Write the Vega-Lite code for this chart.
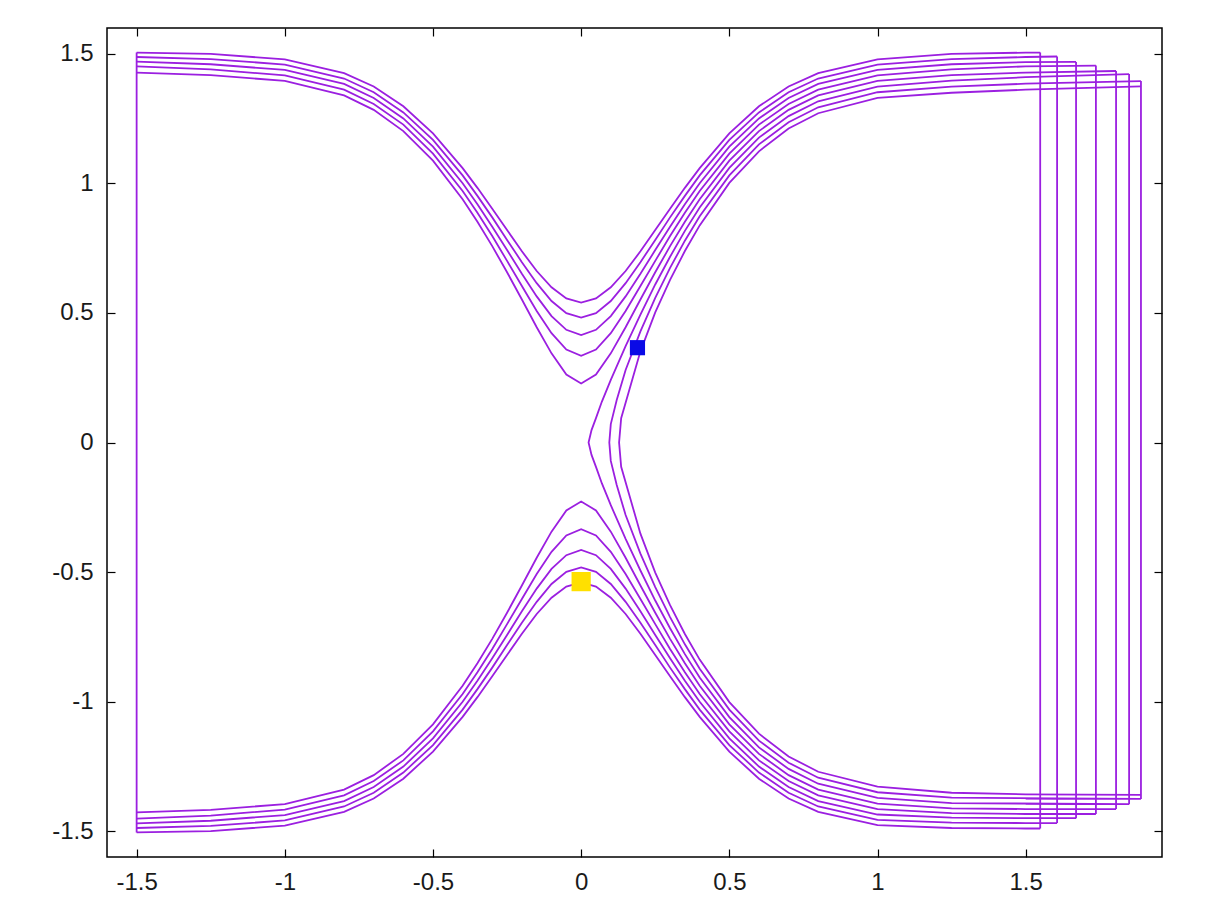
{
  "$schema": "https://vega.github.io/schema/vega-lite/v6.json",
  "width": 1055,
  "height": 829,
  "autosize": "none",
  "padding": {"left": 107, "top": 28, "right": 55, "bottom": 58},
  "background": "white",
  "config": {
    "view": {"stroke": "#000", "strokeWidth": 1.5},
    "axis": {"labelFont": "Liberation Sans", "labelFontSize": 24, "labelColor": "#1a1a1a", "tickColor": "#000", "tickSize": -8, "tickWidth": 1.2, "domain": false, "grid": false, "title": null}
  },
  "datasets": {
    "over": [
      {"k":"a1","x":-1.5,"y":1.505},{"k":"a1","x":-1.25,"y":1.5},{"k":"a1","x":-1,"y":1.479},{"k":"a1","x":-0.8,"y":1.426},{"k":"a1","x":-0.7,"y":1.374},{"k":"a1","x":-0.6,"y":1.298},{"k":"a1","x":-0.5,"y":1.193},{"k":"a1","x":-0.4,"y":1.059},{"k":"a1","x":-0.35,"y":0.983},{"k":"a1","x":-0.3,"y":0.902},{"k":"a1","x":-0.25,"y":0.82},{"k":"a1","x":-0.2,"y":0.738},{"k":"a1","x":-0.15,"y":0.662},{"k":"a1","x":-0.1,"y":0.599},{"k":"a1","x":-0.05,"y":0.556},{"k":"a1","x":0,"y":0.54},{"k":"a1","x":0.05,"y":0.556},{"k":"a1","x":0.1,"y":0.599},{"k":"a1","x":0.15,"y":0.662},{"k":"a1","x":0.2,"y":0.738},{"k":"a1","x":0.25,"y":0.82},{"k":"a1","x":0.3,"y":0.902},{"k":"a1","x":0.35,"y":0.983},{"k":"a1","x":0.4,"y":1.059},{"k":"a1","x":0.5,"y":1.193},{"k":"a1","x":0.6,"y":1.298},{"k":"a1","x":0.7,"y":1.374},{"k":"a1","x":0.8,"y":1.426},{"k":"a1","x":1,"y":1.479},{"k":"a1","x":1.25,"y":1.5},{"k":"a1","x":1.5,"y":1.505},{"k":"a1","x":1.549,"y":1.505},
      {"k":"b1","x":-1.5,"y":-1.505},{"k":"b1","x":-1.25,"y":-1.5},{"k":"b1","x":-1,"y":-1.479},{"k":"b1","x":-0.8,"y":-1.426},{"k":"b1","x":-0.7,"y":-1.374},{"k":"b1","x":-0.6,"y":-1.298},{"k":"b1","x":-0.5,"y":-1.193},{"k":"b1","x":-0.4,"y":-1.059},{"k":"b1","x":-0.35,"y":-0.983},{"k":"b1","x":-0.3,"y":-0.902},{"k":"b1","x":-0.25,"y":-0.82},{"k":"b1","x":-0.2,"y":-0.738},{"k":"b1","x":-0.15,"y":-0.662},{"k":"b1","x":-0.1,"y":-0.599},{"k":"b1","x":-0.05,"y":-0.556},{"k":"b1","x":0,"y":-0.54},{"k":"b1","x":0.05,"y":-0.556},{"k":"b1","x":0.1,"y":-0.599},{"k":"b1","x":0.15,"y":-0.662},{"k":"b1","x":0.2,"y":-0.738},{"k":"b1","x":0.25,"y":-0.82},{"k":"b1","x":0.3,"y":-0.902},{"k":"b1","x":0.35,"y":-0.983},{"k":"b1","x":0.4,"y":-1.059},{"k":"b1","x":0.5,"y":-1.193},{"k":"b1","x":0.6,"y":-1.298},{"k":"b1","x":0.7,"y":-1.374},{"k":"b1","x":0.8,"y":-1.426},{"k":"b1","x":1,"y":-1.477},{"k":"b1","x":1.25,"y":-1.488},{"k":"b1","x":1.5,"y":-1.49},{"k":"b1","x":1.549,"y":-1.49},
      {"k":"a2","x":-1.5,"y":1.488},{"k":"a2","x":-1.25,"y":1.48},{"k":"a2","x":-1,"y":1.459},{"k":"a2","x":-0.8,"y":1.405},{"k":"a2","x":-0.7,"y":1.352},{"k":"a2","x":-0.6,"y":1.274},{"k":"a2","x":-0.5,"y":1.168},{"k":"a2","x":-0.4,"y":1.031},{"k":"a2","x":-0.35,"y":0.952},{"k":"a2","x":-0.3,"y":0.869},{"k":"a2","x":-0.25,"y":0.782},{"k":"a2","x":-0.2,"y":0.696},{"k":"a2","x":-0.15,"y":0.615},{"k":"a2","x":-0.1,"y":0.546},{"k":"a2","x":-0.05,"y":0.499},{"k":"a2","x":0,"y":0.482},{"k":"a2","x":0.05,"y":0.499},{"k":"a2","x":0.1,"y":0.546},{"k":"a2","x":0.15,"y":0.615},{"k":"a2","x":0.2,"y":0.696},{"k":"a2","x":0.25,"y":0.782},{"k":"a2","x":0.3,"y":0.869},{"k":"a2","x":0.35,"y":0.952},{"k":"a2","x":0.4,"y":1.031},{"k":"a2","x":0.5,"y":1.168},{"k":"a2","x":0.6,"y":1.274},{"k":"a2","x":0.7,"y":1.352},{"k":"a2","x":0.8,"y":1.405},{"k":"a2","x":1,"y":1.459},{"k":"a2","x":1.25,"y":1.48},{"k":"a2","x":1.5,"y":1.488},{"k":"a2","x":1.606,"y":1.49},
      {"k":"b2","x":-1.5,"y":-1.488},{"k":"b2","x":-1.25,"y":-1.48},{"k":"b2","x":-1,"y":-1.459},{"k":"b2","x":-0.8,"y":-1.405},{"k":"b2","x":-0.7,"y":-1.352},{"k":"b2","x":-0.6,"y":-1.274},{"k":"b2","x":-0.5,"y":-1.168},{"k":"b2","x":-0.4,"y":-1.031},{"k":"b2","x":-0.35,"y":-0.952},{"k":"b2","x":-0.3,"y":-0.869},{"k":"b2","x":-0.25,"y":-0.782},{"k":"b2","x":-0.2,"y":-0.696},{"k":"b2","x":-0.15,"y":-0.615},{"k":"b2","x":-0.1,"y":-0.546},{"k":"b2","x":-0.05,"y":-0.499},{"k":"b2","x":0,"y":-0.482},{"k":"b2","x":0.05,"y":-0.499},{"k":"b2","x":0.1,"y":-0.546},{"k":"b2","x":0.15,"y":-0.615},{"k":"b2","x":0.2,"y":-0.696},{"k":"b2","x":0.25,"y":-0.782},{"k":"b2","x":0.3,"y":-0.869},{"k":"b2","x":0.35,"y":-0.952},{"k":"b2","x":0.4,"y":-1.031},{"k":"b2","x":0.5,"y":-1.168},{"k":"b2","x":0.6,"y":-1.274},{"k":"b2","x":0.7,"y":-1.352},{"k":"b2","x":0.8,"y":-1.405},{"k":"b2","x":1,"y":-1.457},{"k":"b2","x":1.25,"y":-1.467},{"k":"b2","x":1.5,"y":-1.469},{"k":"b2","x":1.606,"y":-1.469},
      {"k":"a3","x":-1.5,"y":1.47},{"k":"a3","x":-1.25,"y":1.46},{"k":"a3","x":-1,"y":1.438},{"k":"a3","x":-0.8,"y":1.384},{"k":"a3","x":-0.7,"y":1.33},{"k":"a3","x":-0.6,"y":1.251},{"k":"a3","x":-0.5,"y":1.142},{"k":"a3","x":-0.4,"y":1.001},{"k":"a3","x":-0.35,"y":0.92},{"k":"a3","x":-0.3,"y":0.833},{"k":"a3","x":-0.25,"y":0.743},{"k":"a3","x":-0.2,"y":0.651},{"k":"a3","x":-0.15,"y":0.564},{"k":"a3","x":-0.1,"y":0.488},{"k":"a3","x":-0.05,"y":0.435},{"k":"a3","x":0,"y":0.415},{"k":"a3","x":0.05,"y":0.435},{"k":"a3","x":0.1,"y":0.488},{"k":"a3","x":0.15,"y":0.564},{"k":"a3","x":0.2,"y":0.651},{"k":"a3","x":0.25,"y":0.743},{"k":"a3","x":0.3,"y":0.833},{"k":"a3","x":0.35,"y":0.92},{"k":"a3","x":0.4,"y":1.001},{"k":"a3","x":0.5,"y":1.142},{"k":"a3","x":0.6,"y":1.251},{"k":"a3","x":0.7,"y":1.33},{"k":"a3","x":0.8,"y":1.384},{"k":"a3","x":1,"y":1.438},{"k":"a3","x":1.25,"y":1.46},{"k":"a3","x":1.5,"y":1.468},{"k":"a3","x":1.67,"y":1.469},
      {"k":"b3","x":-1.5,"y":-1.47},{"k":"b3","x":-1.25,"y":-1.46},{"k":"b3","x":-1,"y":-1.438},{"k":"b3","x":-0.8,"y":-1.384},{"k":"b3","x":-0.7,"y":-1.33},{"k":"b3","x":-0.6,"y":-1.251},{"k":"b3","x":-0.5,"y":-1.142},{"k":"b3","x":-0.4,"y":-1.001},{"k":"b3","x":-0.35,"y":-0.92},{"k":"b3","x":-0.3,"y":-0.833},{"k":"b3","x":-0.25,"y":-0.743},{"k":"b3","x":-0.2,"y":-0.651},{"k":"b3","x":-0.15,"y":-0.564},{"k":"b3","x":-0.1,"y":-0.488},{"k":"b3","x":-0.05,"y":-0.435},{"k":"b3","x":0,"y":-0.415},{"k":"b3","x":0.05,"y":-0.435},{"k":"b3","x":0.1,"y":-0.488},{"k":"b3","x":0.15,"y":-0.564},{"k":"b3","x":0.2,"y":-0.651},{"k":"b3","x":0.25,"y":-0.743},{"k":"b3","x":0.3,"y":-0.833},{"k":"b3","x":0.35,"y":-0.92},{"k":"b3","x":0.4,"y":-1.001},{"k":"b3","x":0.5,"y":-1.142},{"k":"b3","x":0.6,"y":-1.251},{"k":"b3","x":0.7,"y":-1.33},{"k":"b3","x":0.8,"y":-1.384},{"k":"b3","x":1,"y":-1.436},{"k":"b3","x":1.25,"y":-1.448},{"k":"b3","x":1.5,"y":-1.45},{"k":"b3","x":1.67,"y":-1.45},
      {"k":"a4","x":-1.5,"y":1.452},{"k":"a4","x":-1.25,"y":1.44},{"k":"a4","x":-1,"y":1.417},{"k":"a4","x":-0.8,"y":1.362},{"k":"a4","x":-0.7,"y":1.307},{"k":"a4","x":-0.6,"y":1.227},{"k":"a4","x":-0.5,"y":1.115},{"k":"a4","x":-0.4,"y":0.971},{"k":"a4","x":-0.35,"y":0.887},{"k":"a4","x":-0.3,"y":0.797},{"k":"a4","x":-0.25,"y":0.701},{"k":"a4","x":-0.2,"y":0.604},{"k":"a4","x":-0.15,"y":0.508},{"k":"a4","x":-0.1,"y":0.422},{"k":"a4","x":-0.05,"y":0.359},{"k":"a4","x":0,"y":0.335},{"k":"a4","x":0.05,"y":0.359},{"k":"a4","x":0.1,"y":0.422},{"k":"a4","x":0.15,"y":0.508},{"k":"a4","x":0.2,"y":0.604},{"k":"a4","x":0.25,"y":0.701},{"k":"a4","x":0.3,"y":0.797},{"k":"a4","x":0.35,"y":0.887},{"k":"a4","x":0.4,"y":0.971},{"k":"a4","x":0.5,"y":1.115},{"k":"a4","x":0.6,"y":1.227},{"k":"a4","x":0.7,"y":1.307},{"k":"a4","x":0.8,"y":1.362},{"k":"a4","x":1,"y":1.417},{"k":"a4","x":1.25,"y":1.44},{"k":"a4","x":1.5,"y":1.452},{"k":"a4","x":1.737,"y":1.455},
      {"k":"b4","x":-1.5,"y":-1.452},{"k":"b4","x":-1.25,"y":-1.44},{"k":"b4","x":-1,"y":-1.417},{"k":"b4","x":-0.8,"y":-1.362},{"k":"b4","x":-0.7,"y":-1.307},{"k":"b4","x":-0.6,"y":-1.227},{"k":"b4","x":-0.5,"y":-1.115},{"k":"b4","x":-0.4,"y":-0.971},{"k":"b4","x":-0.35,"y":-0.887},{"k":"b4","x":-0.3,"y":-0.797},{"k":"b4","x":-0.25,"y":-0.701},{"k":"b4","x":-0.2,"y":-0.604},{"k":"b4","x":-0.15,"y":-0.508},{"k":"b4","x":-0.1,"y":-0.422},{"k":"b4","x":-0.05,"y":-0.359},{"k":"b4","x":0,"y":-0.335},{"k":"b4","x":0.05,"y":-0.359},{"k":"b4","x":0.1,"y":-0.422},{"k":"b4","x":0.15,"y":-0.508},{"k":"b4","x":0.2,"y":-0.604},{"k":"b4","x":0.25,"y":-0.701},{"k":"b4","x":0.3,"y":-0.797},{"k":"b4","x":0.35,"y":-0.887},{"k":"b4","x":0.4,"y":-0.971},{"k":"b4","x":0.5,"y":-1.115},{"k":"b4","x":0.6,"y":-1.227},{"k":"b4","x":0.7,"y":-1.307},{"k":"b4","x":0.8,"y":-1.362},{"k":"b4","x":1,"y":-1.415},{"k":"b4","x":1.25,"y":-1.431},{"k":"b4","x":1.5,"y":-1.434},{"k":"b4","x":1.737,"y":-1.434},
      {"k":"a5","x":-1.5,"y":1.428},{"k":"a5","x":-1.25,"y":1.418},{"k":"a5","x":-1,"y":1.396},{"k":"a5","x":-0.8,"y":1.34},{"k":"a5","x":-0.7,"y":1.284},{"k":"a5","x":-0.6,"y":1.202},{"k":"a5","x":-0.5,"y":1.088},{"k":"a5","x":-0.4,"y":0.939},{"k":"a5","x":-0.35,"y":0.852},{"k":"a5","x":-0.3,"y":0.758},{"k":"a5","x":-0.25,"y":0.657},{"k":"a5","x":-0.2,"y":0.552},{"k":"a5","x":-0.15,"y":0.445},{"k":"a5","x":-0.1,"y":0.344},{"k":"a5","x":-0.05,"y":0.262},{"k":"a5","x":0,"y":0.228},{"k":"a5","x":0.05,"y":0.262},{"k":"a5","x":0.1,"y":0.344},{"k":"a5","x":0.15,"y":0.445},{"k":"a5","x":0.2,"y":0.552},{"k":"a5","x":0.25,"y":0.657},{"k":"a5","x":0.3,"y":0.758},{"k":"a5","x":0.35,"y":0.852},{"k":"a5","x":0.4,"y":0.939},{"k":"a5","x":0.5,"y":1.088},{"k":"a5","x":0.6,"y":1.202},{"k":"a5","x":0.7,"y":1.284},{"k":"a5","x":0.8,"y":1.34},{"k":"a5","x":1,"y":1.396},{"k":"a5","x":1.25,"y":1.418},{"k":"a5","x":1.5,"y":1.428},{"k":"a5","x":1.805,"y":1.434},
      {"k":"b5","x":-1.5,"y":-1.428},{"k":"b5","x":-1.25,"y":-1.418},{"k":"b5","x":-1,"y":-1.396},{"k":"b5","x":-0.8,"y":-1.34},{"k":"b5","x":-0.7,"y":-1.284},{"k":"b5","x":-0.6,"y":-1.202},{"k":"b5","x":-0.5,"y":-1.088},{"k":"b5","x":-0.4,"y":-0.939},{"k":"b5","x":-0.35,"y":-0.852},{"k":"b5","x":-0.3,"y":-0.758},{"k":"b5","x":-0.25,"y":-0.657},{"k":"b5","x":-0.2,"y":-0.552},{"k":"b5","x":-0.15,"y":-0.445},{"k":"b5","x":-0.1,"y":-0.344},{"k":"b5","x":-0.05,"y":-0.262},{"k":"b5","x":0,"y":-0.228},{"k":"b5","x":0.05,"y":-0.262},{"k":"b5","x":0.1,"y":-0.344},{"k":"b5","x":0.15,"y":-0.445},{"k":"b5","x":0.2,"y":-0.552},{"k":"b5","x":0.25,"y":-0.657},{"k":"b5","x":0.3,"y":-0.758},{"k":"b5","x":0.35,"y":-0.852},{"k":"b5","x":0.4,"y":-0.939},{"k":"b5","x":0.5,"y":-1.088},{"k":"b5","x":0.6,"y":-1.202},{"k":"b5","x":0.7,"y":-1.284},{"k":"b5","x":0.8,"y":-1.34},{"k":"b5","x":1,"y":-1.394},{"k":"b5","x":1.25,"y":-1.412},{"k":"b5","x":1.5,"y":-1.415},{"k":"b5","x":1.805,"y":-1.415}
    ],
    "turn": [
      {"k":"r6","x":1.849,"y":1.422},{"k":"r6","x":1.5,"y":1.41},{"k":"r6","x":1.25,"y":1.397},{"k":"r6","x":1,"y":1.374},{"k":"r6","x":0.8,"y":1.317},{"k":"r6","x":0.7,"y":1.26},{"k":"r6","x":0.6,"y":1.177},{"k":"r6","x":0.5,"y":1.06},{"k":"r6","x":0.4,"y":0.907},{"k":"r6","x":0.35,"y":0.817},{"k":"r6","x":0.3,"y":0.717},{"k":"r6","x":0.25,"y":0.61},{"k":"r6","x":0.2,"y":0.494},{"k":"r6","x":0.15,"y":0.372},{"k":"r6","x":0.1,"y":0.242},{"k":"r6","x":0.07,"y":0.158},{"k":"r6","x":0.05,"y":0.094},{"k":"r6","x":0.035,"y":0.048},{"k":"r6","x":0.025,"y":0},
      {"k":"r6","x":0.035,"y":-0.048},{"k":"r6","x":0.05,"y":-0.094},{"k":"r6","x":0.07,"y":-0.158},{"k":"r6","x":0.1,"y":-0.242},{"k":"r6","x":0.15,"y":-0.372},{"k":"r6","x":0.2,"y":-0.494},{"k":"r6","x":0.25,"y":-0.61},{"k":"r6","x":0.3,"y":-0.717},{"k":"r6","x":0.35,"y":-0.817},{"k":"r6","x":0.4,"y":-0.907},{"k":"r6","x":0.5,"y":-1.06},{"k":"r6","x":0.6,"y":-1.177},{"k":"r6","x":0.7,"y":-1.26},{"k":"r6","x":0.8,"y":-1.317},{"k":"r6","x":1,"y":-1.372},{"k":"r6","x":1.25,"y":-1.392},{"k":"r6","x":1.5,"y":-1.396},{"k":"r6","x":1.849,"y":-1.396},
      {"k":"r7","x":1.889,"y":1.395},{"k":"r7","x":1.5,"y":1.385},{"k":"r7","x":1.25,"y":1.374},{"k":"r7","x":1,"y":1.352},{"k":"r7","x":0.8,"y":1.294},{"k":"r7","x":0.7,"y":1.236},{"k":"r7","x":0.6,"y":1.151},{"k":"r7","x":0.5,"y":1.031},{"k":"r7","x":0.4,"y":0.873},{"k":"r7","x":0.35,"y":0.779},{"k":"r7","x":0.3,"y":0.674},{"k":"r7","x":0.25,"y":0.558},{"k":"r7","x":0.2,"y":0.429},{"k":"r7","x":0.15,"y":0.28},{"k":"r7","x":0.12,"y":0.164},{"k":"r7","x":0.1,"y":0.071},{"k":"r7","x":0.095,"y":0},
      {"k":"r7","x":0.1,"y":-0.071},{"k":"r7","x":0.12,"y":-0.164},{"k":"r7","x":0.15,"y":-0.28},{"k":"r7","x":0.2,"y":-0.429},{"k":"r7","x":0.25,"y":-0.558},{"k":"r7","x":0.3,"y":-0.674},{"k":"r7","x":0.35,"y":-0.779},{"k":"r7","x":0.4,"y":-0.873},{"k":"r7","x":0.5,"y":-1.031},{"k":"r7","x":0.6,"y":-1.151},{"k":"r7","x":0.7,"y":-1.236},{"k":"r7","x":0.8,"y":-1.294},{"k":"r7","x":1,"y":-1.35},{"k":"r7","x":1.25,"y":-1.371},{"k":"r7","x":1.5,"y":-1.376},{"k":"r7","x":1.889,"y":-1.376},
      {"k":"r8","x":1.889,"y":1.375},{"k":"r8","x":1.5,"y":1.362},{"k":"r8","x":1.25,"y":1.35},{"k":"r8","x":1,"y":1.33},{"k":"r8","x":0.8,"y":1.271},{"k":"r8","x":0.7,"y":1.212},{"k":"r8","x":0.6,"y":1.124},{"k":"r8","x":0.5,"y":1.002},{"k":"r8","x":0.4,"y":0.838},{"k":"r8","x":0.35,"y":0.739},{"k":"r8","x":0.3,"y":0.628},{"k":"r8","x":0.25,"y":0.502},{"k":"r8","x":0.2,"y":0.352},{"k":"r8","x":0.16,"y":0.193},{"k":"r8","x":0.135,"y":0.094},{"k":"r8","x":0.128,"y":0},
      {"k":"r8","x":0.135,"y":-0.094},{"k":"r8","x":0.16,"y":-0.193},{"k":"r8","x":0.2,"y":-0.352},{"k":"r8","x":0.25,"y":-0.502},{"k":"r8","x":0.3,"y":-0.628},{"k":"r8","x":0.35,"y":-0.739},{"k":"r8","x":0.4,"y":-0.838},{"k":"r8","x":0.5,"y":-1.002},{"k":"r8","x":0.6,"y":-1.124},{"k":"r8","x":0.7,"y":-1.212},{"k":"r8","x":0.8,"y":-1.271},{"k":"r8","x":1,"y":-1.328},{"k":"r8","x":1.25,"y":-1.352},{"k":"r8","x":1.5,"y":-1.358},{"k":"r8","x":1.889,"y":-1.36}
    ],
    "walls": [
      {"x":-1.5,"y":-1.505,"y2":1.505},
      {"x":1.549,"y":-1.49,"y2":1.505},
      {"x":1.606,"y":-1.469,"y2":1.49},
      {"x":1.67,"y":-1.45,"y2":1.469},
      {"x":1.737,"y":-1.434,"y2":1.455},
      {"x":1.805,"y":-1.415,"y2":1.434},
      {"x":1.849,"y":-1.396,"y2":1.422},
      {"x":1.889,"y":-1.376,"y2":1.395}
    ],
    "marks": [
      {"name":"blue","x":0.19,"y":0.366},
      {"name":"yellow","x":0.0,"y":-0.537}
    ]
  },
  "resolve": {"axis": {"x": "independent", "y": "independent"}},
  "layer": [
    {
      "data": {"name": "over"},
      "mark": {"type": "line", "color": "#9b1fe0", "strokeWidth": 1.8},
      "encoding": {
        "x": {"field": "x", "type": "quantitative", "scale": {"domain": [-1.6, 1.96], "nice": false, "zero": false},
              "axis": {"values": [-1.5, -1, -0.5, 0, 0.5, 1, 1.5], "labelExpr": "toString(datum.value)", "labelPadding": 21}},
        "y": {"field": "y", "type": "quantitative", "scale": {"domain": [-1.6, 1.6], "nice": false, "zero": false},
              "axis": {"values": [-1.5, -1, -0.5, 0, 0.5, 1, 1.5], "labelExpr": "toString(datum.value)", "labelPadding": 22}},
        "detail": {"field": "k"}
      }
    },
    {
      "data": {"name": "turn"},
      "mark": {"type": "line", "color": "#9b1fe0", "strokeWidth": 1.8},
      "encoding": {
        "x": {"field": "x", "type": "quantitative", "axis": null},
        "y": {"field": "y", "type": "quantitative", "axis": null},
        "detail": {"field": "k"},
        "order": {"field": "y", "type": "quantitative"}
      }
    },
    {
      "data": {"name": "walls"},
      "mark": {"type": "rule", "color": "#9b1fe0", "strokeWidth": 1.8},
      "encoding": {
        "x": {"field": "x", "type": "quantitative", "axis": null},
        "y": {"field": "y", "type": "quantitative", "axis": null},
        "y2": {"field": "y2"}
      }
    },
    {
      "data": {"name": "marks"},
      "mark": {"type": "square", "filled": true, "opacity": 1},
      "encoding": {
        "x": {"field": "x", "type": "quantitative", "axis": null},
        "y": {"field": "y", "type": "quantitative", "axis": null},
        "color": {"field": "name", "type": "nominal", "scale": {"domain": ["blue", "yellow"], "range": ["#0a0ae6", "#ffe000"]}, "legend": null},
        "size": {"field": "name", "type": "nominal", "scale": {"domain": ["blue", "yellow"], "range": [230, 370]}, "legend": null}
      }
    },
    {
      "data": {"name": "marks"},
      "mark": {"type": "point", "opacity": 0},
      "encoding": {
        "x": {"field": "x", "type": "quantitative", "axis": {"orient": "top", "labels": false, "values": [-1.5, -1, -0.5, 0, 0.5, 1, 1.5]}},
        "y": {"field": "y", "type": "quantitative", "axis": {"orient": "right", "labels": false, "values": [-1.5, -1, -0.5, 0, 0.5, 1, 1.5]}}
      }
    }
  ]
}
